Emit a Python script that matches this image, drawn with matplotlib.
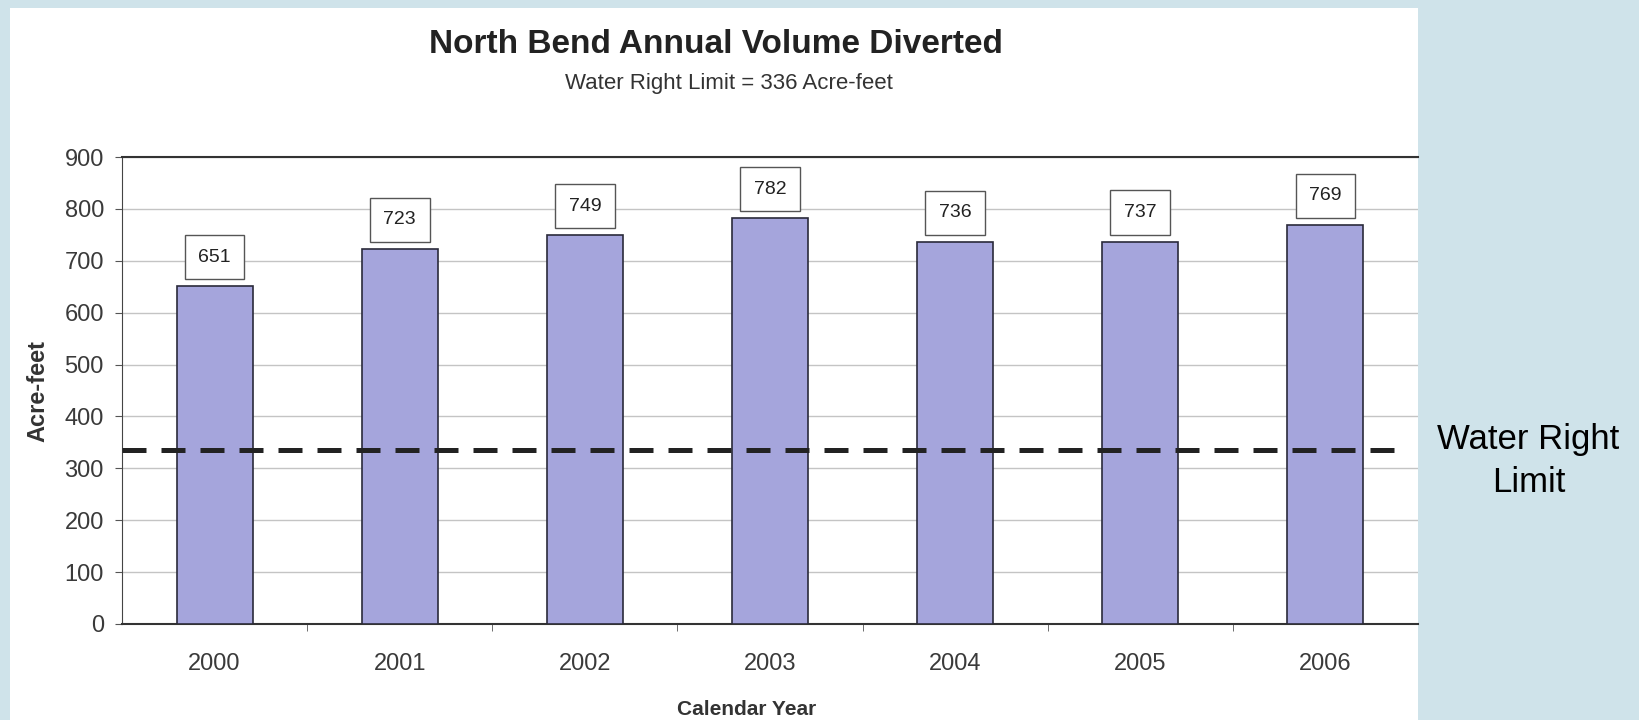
import matplotlib.pyplot as plt
from matplotlib.patches import Rectangle

# datos
anios = ['2000', '2001', '2002', '2003', '2004', '2005', '2006']
volumen = [651, 723, 749, 782, 736, 737, 769]
limite = 336
yticks = [0, 100, 200, 300, 400, 500, 600, 700, 800, 900]

plt.rcParams['font.family'] = ['Liberation Sans', 'DejaVu Sans']

fig = plt.figure(figsize=(16.4, 7.2), dpi=100)
fig.patch.set_facecolor('#cfe3ea')

# panel blanco del grafico escaneado
fig.patches.append(Rectangle((10 / 1640, 0), 1408 / 1640, 1 - 8 / 720,
                             transform=fig.transFigure, facecolor='white',
                             edgecolor='none', zorder=-5))

ax = fig.add_axes([122 / 1640, 1 - 624 / 720, 1296 / 1640, 467 / 720])
ax.set_zorder(2)
ax.set_facecolor('white')

x = range(len(anios))
ax.bar(x, volumen, width=0.41, color='#a5a5dc', edgecolor='#2a2a3a',
       linewidth=1.2, zorder=3)

# etiquetas de valor en cajitas
for i, v in zip(x, volumen):
    ax.annotate(str(v), (i, v), xytext=(0, 21), textcoords='offset points',
                ha='center', va='center', fontsize=14, color='#222222',
                bbox=dict(boxstyle='square,pad=0.7', facecolor='white',
                          edgecolor='#555555', linewidth=1), zorder=5)

# linea del limite del derecho de agua
ax.axhline(limite, xmin=0, xmax=0.985, color='#222222', linewidth=3.6,
           linestyle=(0, (4.8, 3)), zorder=4)

ax.set_xlim(-0.5, len(anios) - 0.5)
ax.set_ylim(0, 900)
ax.set_yticks(yticks)
ax.set_yticklabels([str(t) for t in yticks], fontsize=17, color='#3a3a3a')
ax.set_xticks(list(x))
ax.set_xticklabels(anios, fontsize=17, color='#3a3a3a')
ax.tick_params(axis='x', length=0, pad=21)
ax.set_xticks([i + 0.5 for i in range(len(anios) - 1)], minor=True)
ax.tick_params(axis='x', which='minor', length=5, color='#555555')
ax.tick_params(axis='y', length=5, color='#555555', pad=8)

ax.grid(axis='y', color='#c4c4c4', linewidth=1, zorder=0)
ax.set_axisbelow(True)
ax.spines['right'].set_visible(False)
ax.spines['top'].set_color('#333333')
ax.spines['top'].set_linewidth(1.5)
ax.spines['bottom'].set_color('#333333')
ax.spines['bottom'].set_linewidth(1.5)
ax.spines['left'].set_color('#444444')

ax.set_ylabel('Acre-feet', fontsize=17, fontweight='bold', color='#333333')
ax.yaxis.set_label_coords(-0.056, 0.5)
ax.set_xlabel('Calendar Year', fontsize=15, fontweight='bold', color='#333333')
ax.xaxis.set_label_coords(0.482, -0.163)

fig.text(0.4366, 0.938, 'North Bend Annual Volume Diverted', ha='center', va='center',
         fontsize=24, fontweight='bold', color='#222222')
fig.text(0.4445, 0.884, 'Water Right Limit = 336 Acre-feet', ha='center', va='center',
         fontsize=16, color='#333333')

fig.text(0.932, 0.36, 'Water Right\nLimit', ha='center', va='center', fontsize=25,
         color='black', linespacing=1.4)

fig.savefig('out.png', dpi=100, facecolor=fig.get_facecolor())
